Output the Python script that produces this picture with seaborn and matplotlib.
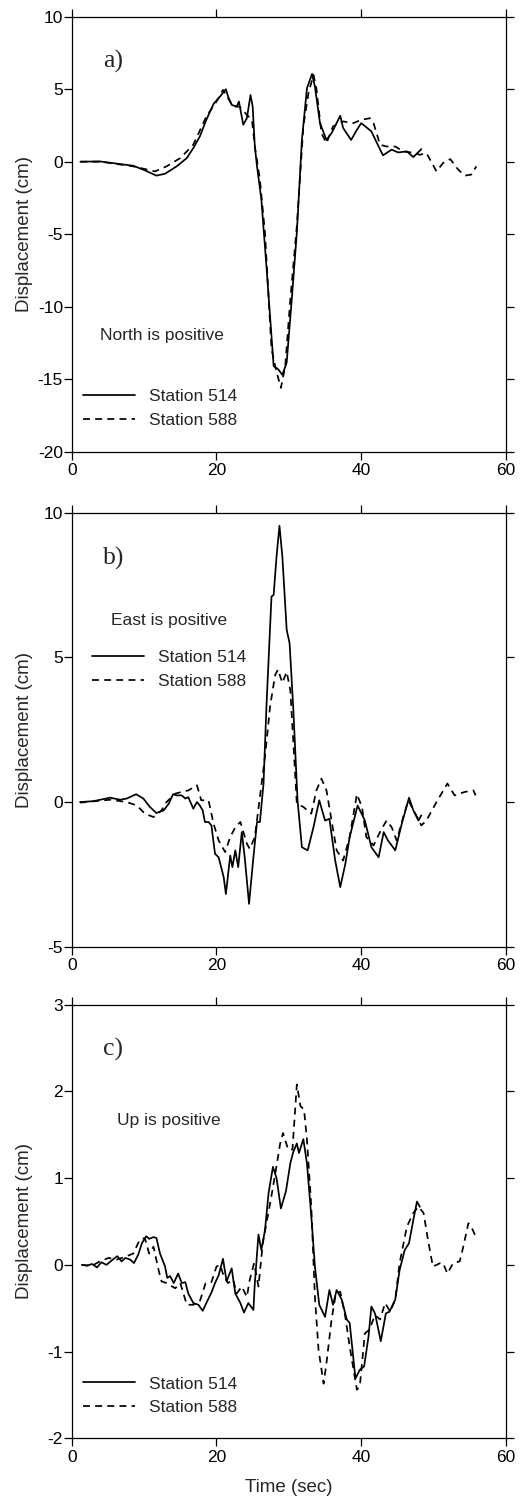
import numpy as np
import pandas as pd
import matplotlib
matplotlib.use("Agg")
import matplotlib.pyplot as plt
import seaborn as sns

# ---------------- data ----------------
# Panel a: North component
t_a514 = [1.2, 3.9, 8.5, 9.9, 11.7, 12.9, 14.5, 15.9, 16.8, 17.7, 18.6, 19.6, 20.5, 21.3, 21.6, 22.1,
          22.8, 23.1, 23.7, 24.2, 24.7, 25.0, 25.3, 25.6, 26.2, 26.9, 27.9, 28.5, 29.1, 29.7, 30.4,
          31.1, 31.8, 32.5, 33.2, 33.6, 34.3, 35.2, 35.9, 37.1, 37.5, 38.6, 39.4, 40.0, 41.4, 42.4,
          43.0, 44.2, 45.1, 46.3, 47.2, 48.3]
v_a514 = [0.0, 0.02, -0.28, -0.55, -0.96, -0.83, -0.32, 0.25, 0.94, 1.74, 2.89, 3.99, 4.5, 5.0, 4.5, 3.92,
          3.8, 4.15, 2.55, 3.0, 4.6, 3.8, 1.05, -0.32, -2.6, -7.2, -14.1, -14.3, -14.7, -13.85, -9.5,
          -4.9, 1.5, 5.07, 6.05, 5.18, 2.66, 1.5, 1.97, 3.17, 2.32, 1.5, 2.2, 2.66, 2.09, 1.05,
          0.44, 0.83, 0.64, 0.71, 0.32, 0.87]
t_a588 = [1.2, 4.0, 8.5, 11.5, 13.1, 15.0, 16.8, 18.6, 20.0, 20.9, 21.6, 22.3, 23.2, 24.2, 24.9, 25.3,
          26.0, 26.7, 27.6, 28.2, 28.9, 29.5, 30.2, 31.1, 32.0, 32.7, 33.4, 33.8, 34.5, 35.2, 36.1,
          37.5, 38.9, 40.0, 41.2, 41.7, 42.6, 43.5, 44.7, 45.8, 46.9, 48.1, 49.0, 50.4, 51.3, 52.3,
          53.4, 54.3, 55.2, 55.9]
v_a588 = [0.0, 0.0, -0.32, -0.67, -0.32, 0.25, 1.17, 3.12, 4.15, 4.95, 4.38, 3.8, 3.8, 3.23, 2.89, 1.05,
          -1.24, -4.9, -12.9, -14.3, -15.6, -14.1, -9.5, -4.45, 2.43, 4.72, 5.99, 5.07, 1.97, 1.28, 2.43,
          2.78, 2.66, 2.89, 3.0, 2.66, 1.17, 1.05, 1.05, 0.71, 0.64, 0.48, 0.6, -0.67, -0.09, 0.18,
          -0.55, -0.96, -0.89, -0.32]

# Panel b: East component
t_b514 = [1.15, 3.0, 5.3, 6.7, 7.6, 8.9, 9.9, 10.8, 11.7, 12.7, 13.4, 14.0, 14.5, 15.2, 15.7, 16.1,
          16.8, 17.3, 17.7, 18.1, 18.4, 18.9, 19.3, 19.8, 20.3, 21.0, 21.3, 21.9, 22.2, 22.6, 23.0,
          23.5, 23.9, 24.5, 25.1, 25.6, 26.0, 26.5, 26.9, 27.6, 27.9, 28.3, 28.7, 29.1, 29.7, 30.1,
          30.6, 31.2, 31.8, 32.6, 33.4, 34.2, 35.0, 35.6, 36.4, 37.1, 37.8, 38.4, 39.5, 40.5, 41.4,
          42.4, 43.1, 43.7, 44.7, 45.6, 46.6, 47.2, 47.9, 48.3]
v_b514 = [0.0, 0.03, 0.15, 0.08, 0.12, 0.27, 0.12, -0.17, -0.38, -0.29, -0.06, 0.27, 0.23, 0.23, 0.12, 0.17,
          -0.23, 0.0, -0.12, -0.29, -0.69, -0.69, -0.81, -1.79, -1.91, -2.6, -3.18, -1.85, -2.25, -1.67, -2.25,
          -1.04, -1.91, -3.52, -1.91, -0.69, -0.69, 0.64, 3.29, 7.1, 7.16, 8.49, 9.55, 8.49, 5.95, 5.49,
          3.29, 0.06, -1.56, -1.67, -0.87, 0.06, -0.64, -0.58, -2.02, -2.94, -2.14, -1.21, -0.12, -0.64, -1.56,
          -1.91, -1.04, -1.33, -1.67, -0.75, 0.15, -0.29, -0.64, -0.46]
t_b588 = [1.15, 5.3, 7.6, 9.0, 10.1, 11.3, 12.4, 13.1, 14.3, 15.2, 16.1, 17.3, 17.9, 18.9, 19.6, 20.3,
          21.2, 21.9, 22.6, 23.3, 24.2, 24.6, 25.3, 26.0, 26.7, 27.4, 28.1, 28.5, 29.1, 29.7, 30.2,
          30.6, 31.1, 32.0, 33.1, 33.8, 34.5, 35.2, 35.9, 36.6, 37.5, 38.4, 39.4, 40.1, 40.7, 41.7,
          42.7, 43.5, 44.2, 44.9, 45.8, 46.5, 47.6, 48.3, 49.0, 50.4, 51.9, 52.9, 54.3, 55.5, 55.8]
v_b588 = [-0.02, 0.08, 0.0, -0.12, -0.4, -0.52, -0.29, 0.0, 0.29, 0.35, 0.4, 0.58, 0.06, 0.06, -0.75, -1.33,
          -1.73, -1.21, -0.87, -0.69, -1.44, -1.62, -1.21, 0.17, 1.56, 3.29, 4.39, 4.58, 4.12, 4.5, 3.87,
          2.14, -0.06, -0.17, -0.4, 0.4, 0.81, 0.4, -0.64, -1.67, -2.02, -1.21, 0.27, -0.17, -1.21, -1.5,
          -0.98, -0.64, -0.87, -1.33, -0.52, 0.06, -0.46, -0.81, -0.64, 0.0, 0.64, 0.23, 0.35, 0.4, 0.23]

# Panel c: Vertical component
t_c514 = [1.4, 2.1, 2.8, 3.5, 4.1, 4.8, 5.8, 6.3, 6.9, 7.4, 8.1, 8.6, 9.2, 9.7, 10.3, 10.7, 11.3, 11.7,
          12.2, 12.9, 13.2, 13.6, 14.1, 14.7, 15.2, 15.7, 16.1, 16.8, 17.5, 18.1, 18.6, 19.3, 19.8, 20.3,
          20.9, 21.4, 22.1, 22.6, 23.3, 23.8, 24.4, 25.1, 25.3, 25.8, 26.2, 26.7, 27.2, 27.8, 28.3, 28.9,
          29.6, 30.2, 30.6, 31.1, 31.4, 32.0, 32.5, 33.1, 33.6, 34.2, 35.0, 35.6, 36.1, 36.6, 37.3, 38.0,
          38.4, 39.2, 39.8, 40.4, 41.0, 41.4, 41.9, 42.7, 43.4, 43.9, 44.7, 45.3, 46.0, 46.6, 47.2, 47.7, 48.1]
v_c514 = [0.0, -0.01, 0.01, -0.03, 0.03, 0.0, 0.07, 0.1, 0.04, 0.08, 0.06, 0.02, 0.12, 0.25, 0.33, 0.3, 0.32, 0.31,
          0.13, -0.02, -0.15, -0.13, -0.21, -0.1, -0.21, -0.2, -0.33, -0.44, -0.46, -0.53, -0.44, -0.32, -0.21, -0.12,
          0.07, -0.19, -0.04, -0.33, -0.44, -0.55, -0.44, -0.52, -0.21, 0.35, 0.17, 0.4, 0.83, 1.13, 1.0, 0.65,
          0.85, 1.17, 1.3, 1.4, 1.29, 1.45, 1.17, 0.56, -0.02, -0.46, -0.6, -0.29, -0.46, -0.29, -0.4, -0.63,
          -0.67, -1.31, -1.21, -1.17, -0.83, -0.48, -0.56, -0.88, -0.56, -0.54, -0.4, -0.06, 0.17, 0.25, 0.52, 0.73, 0.67]
t_c588 = [1.4, 2.8, 3.9, 5.1, 6.2, 7.6, 8.5, 9.4, 10.1, 10.7, 11.3, 12.0, 12.4, 13.1, 14.3, 15.0, 15.9, 16.8,
          17.7, 18.5, 19.3, 20.0, 20.5, 21.0, 21.6, 22.3, 22.8, 23.5, 24.2, 24.6, 25.2, 25.8, 26.4, 26.9,
          27.5, 28.1, 28.8, 29.2, 29.9, 30.5, 31.1, 31.6, 32.1, 32.5, 33.1, 33.6, 34.1, 34.8, 35.2, 35.9,
          36.5, 37.1, 37.8, 38.4, 39.4, 39.8, 40.5, 41.1, 41.9, 42.6, 43.3, 44.0, 44.7, 45.3, 46.3, 47.2,
          47.9, 48.6, 49.3, 49.9, 50.9, 51.3, 51.9, 52.7, 53.6, 54.1, 54.8, 55.2, 55.9]
v_c588 = [0.0, -0.01, 0.04, 0.08, 0.06, 0.1, 0.13, 0.29, 0.31, 0.13, 0.21, -0.06, -0.19, -0.21, -0.27, -0.21, -0.46, -0.46,
          -0.42, -0.21, -0.2, -0.02, 0.0, -0.13, -0.21, -0.17, -0.33, -0.25, -0.37, -0.17, 0.02, -0.25, 0.25, 0.48,
          0.75, 1.04, 1.4, 1.52, 1.33, 1.33, 2.08, 1.83, 1.79, 1.44, 0.67, -0.37, -0.98, -1.37, -1.13, -0.63,
          -0.33, -0.31, -0.6, -0.94, -1.44, -1.4, -0.79, -0.75, -0.58, -0.63, -0.44, -0.54, -0.4, 0.02, 0.44, 0.6,
          0.67, 0.6, 0.25, -0.02, 0.02, 0.02, -0.1, 0.02, 0.04, 0.21, 0.48, 0.44, 0.31]

panel_letters = ["a)", "b)", "c)"]
panel_notes = ["North is positive", "East is positive", "Up is positive"]
series_labels = ["Station 514", "Station 588"]
y_limits = [(-20, 10), (-5, 10), (-2, 3)]
y_ticks = [[-20, -15, -10, -5, 0, 5, 10], [-5, 0, 5, 10], [-2, -1, 0, 1, 2, 3]]
x_ticks = [0, 20, 40, 60]

# ---------------- style ----------------
sns.set_style("ticks")
plt.rcParams["font.family"] = ["Liberation Sans", "DejaVu Sans"]
plt.rcParams["axes.unicode_minus"] = False
plt.rcParams["axes.edgecolor"] = "black"
plt.rcParams["axes.linewidth"] = 0.9

FS = 12.5
fig = plt.figure(figsize=(5.2, 14.97), dpi=100)

left, width = 0.1379, 0.8352
boxes = [(0.69826, 0.29058), (0.36760, 0.28991), (0.03921, 0.28965)]

panels = [
    (t_a514, v_a514, t_a588, v_a588),
    (t_b514, v_b514, t_b588, v_b588),
    (t_c514, v_c514, t_c588, v_c588),
]
letter_pos = [(4.36, 6.88), (4.36, 8.43), (4.36, 2.48)]
note_pos = [(3.9, -12.02), (5.4, 6.29), (6.2, 1.66)]
legend_anchor = [(0.0267, 0.0998), (0.0474, 0.638), (0.0267, 0.0978)]

dash = (0, (4.0, 3.0))
LW = 1.25

for i, (ta, va, tb, vb) in enumerate(panels):
    bottom, height = boxes[i]
    ax = fig.add_axes([left, bottom, width, height])
    df1 = pd.DataFrame({"t": ta, "v": va})
    df2 = pd.DataFrame({"t": tb, "v": vb})
    sns.lineplot(data=df1, x="t", y="v", ax=ax, color="black", lw=LW,
                 linestyle="-", label=series_labels[0], sort=False, estimator=None)
    sns.lineplot(data=df2, x="t", y="v", ax=ax, color="black", lw=LW,
                 linestyle=dash, label=series_labels[1], sort=False, estimator=None)
    ax.set_xlim(0, 60)
    ax.set_ylim(*y_limits[i])
    ax.set_xticks(x_ticks)
    ax.set_yticks(y_ticks[i])
    ax.tick_params(axis="both", which="major", direction="out", length=5.8, width=0.9,
                   top=True, right=True, labelsize=FS, colors="black")
    ax.tick_params(axis="y", pad=0.5)
    ax.tick_params(axis="x", pad=2.5)
    ax.set_ylabel("Displacement (cm)", fontsize=13.5)
    ax.yaxis.set_label_coords(-0.0884, 0.5)
    if i == 2:
        ax.set_xlabel("Time (sec)", fontsize=13.5, labelpad=10)
    else:
        ax.set_xlabel("")
    ax.text(letter_pos[i][0], letter_pos[i][1], panel_letters[i], ha="left", va="center",
            fontsize=18.5, family=["Liberation Serif", "DejaVu Serif"])
    ax.text(note_pos[i][0], note_pos[i][1], panel_notes[i], ha="left", va="center", fontsize=FS)
    ax.legend(loc="center left", bbox_to_anchor=legend_anchor[i], frameon=False,
              borderpad=0, borderaxespad=0, handlelength=3.0, handletextpad=0.77,
              labelspacing=0.5, fontsize=FS)
    for s in ax.spines.values():
        s.set_color("black")
        s.set_linewidth(0.9)

fig.savefig("out.png", dpi=100)
